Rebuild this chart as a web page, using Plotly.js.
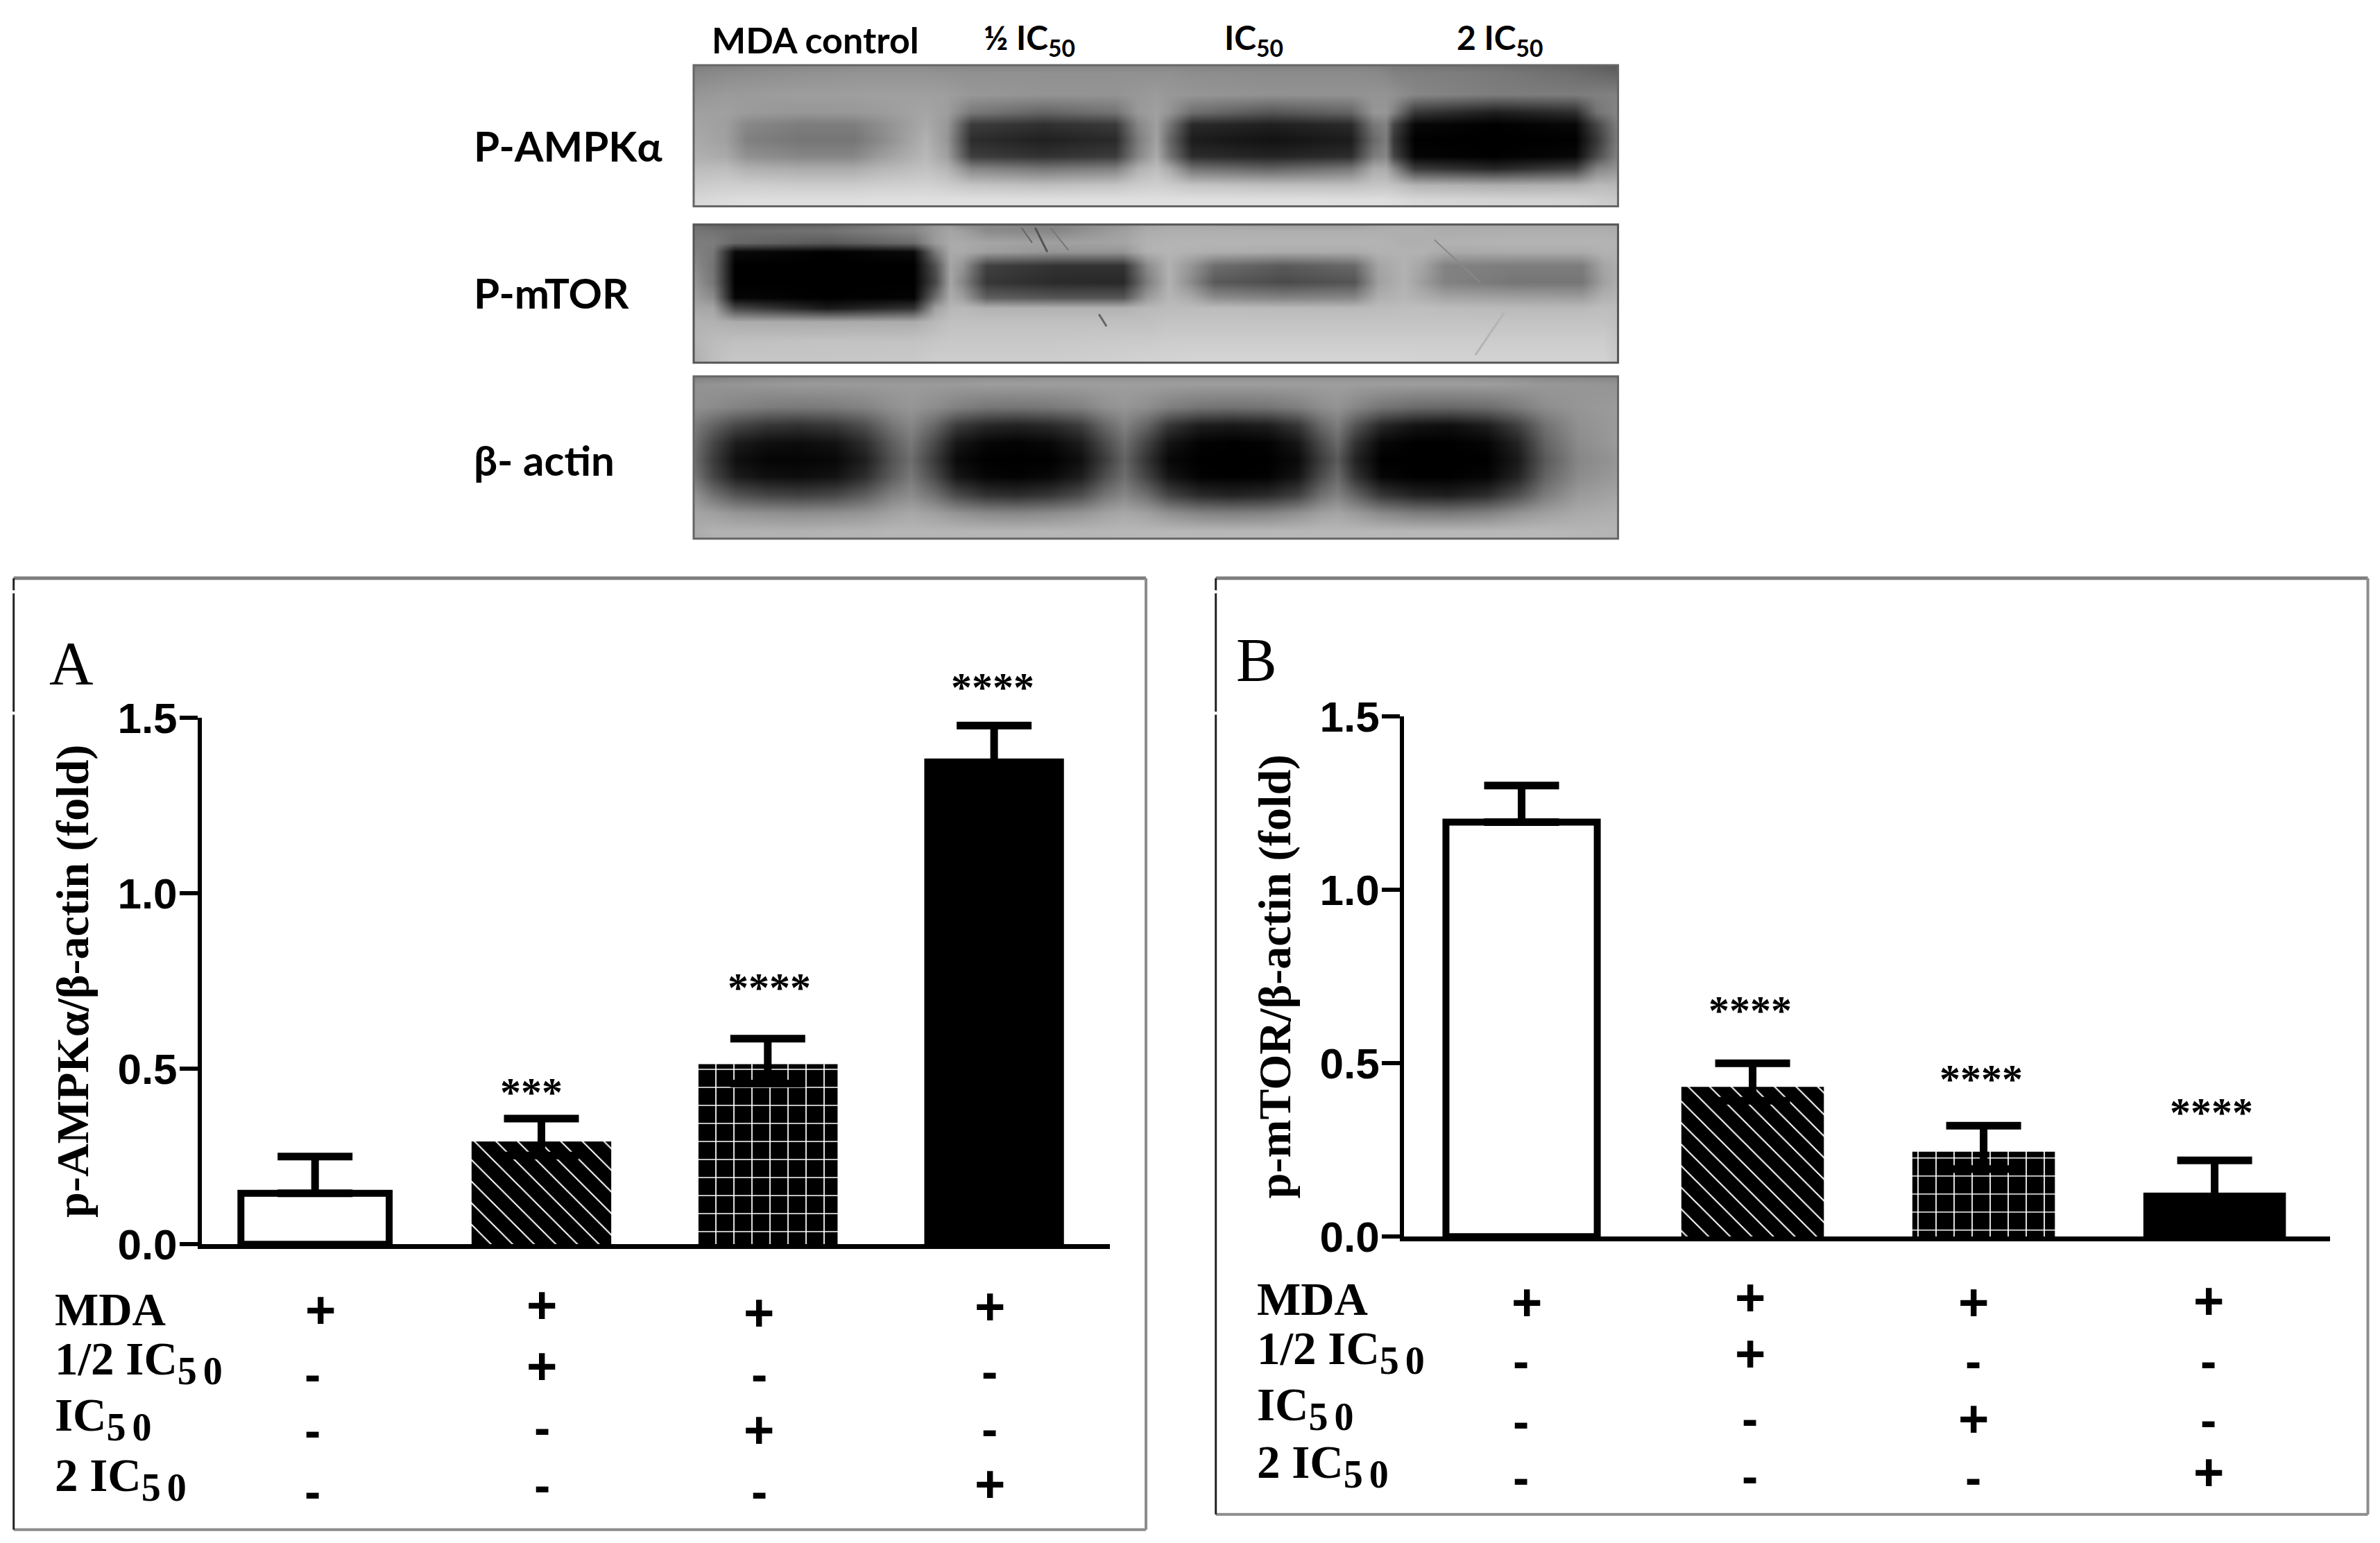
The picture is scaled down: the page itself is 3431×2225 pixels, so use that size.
<!DOCTYPE html>
<html>
<head>
<meta charset="utf-8">
<script src="https://cdn.plot.ly/plotly-3.0.1.min.js"></script>
<style>html,body{margin:0;padding:0;background:#fff}#chart{width:3431px;height:2225px}</style>
</head>
<body>
<div id="chart"></div>
<script>
const categories = ["MDA", "1/2 IC50", "IC50", "2 IC50"];
const valuesA = [0.145, 0.293, 0.513, 1.384];
const errUpA = [0.105, 0.065, 0.073, 0.094];
const errDownA = [0, 0.04, 0.055, 0.09];
const valuesB = [1.195, 0.432, 0.245, 0.127];
const errUpB = [0.105, 0.068, 0.075, 0.093];
const errDownB = [0, 0.04, 0.05, 0.06];
const starsA = ["", "***", "****", "****"];
const starsB = ["", "****", "****", "****"];
const yTicks = [0, 0.5, 1, 1.5];
const yTickLabels = ["0.0", "0.5", "1.0", "1.5"];
const SUB50 = '<sub><span style="font-size:56px;letter-spacing:9px">50</span></sub>';
const rowLabels = ["MDA", "1/2 IC" + SUB50, "IC" + SUB50, "2 IC" + SUB50];
const treatment = [["+","+","+","+"],["-","+","-","-"],["-","-","+","-"],["-","-","-","+"]];
const laneLabels = ["MDA control", "½ IC<sub>50</sub>", "IC<sub>50</sub>", "2 IC<sub>50</sub>"];
const blotLabels = ["P-AMPKα", "P-mTOR", "β- actin"];

// Grey levels of the three blots (top row first).
const ampkCols = [457,478,492,527,562,578,610,624,640,687,735,750,762,770,785,837,890,905,913,918,932,985,1038,1052,1066];
const ampkRows = [43,48,62,74,82,92,103,111,122,131,136];
const blotAMPK = [
[125,130,132,135,138,138,138,136,135,135,135,135,135,135,132,130,130,128,125,120,118,112,100,95,90],
[135,140,142,145,148,148,148,146,145,145,145,145,145,145,142,140,140,138,135,130,128,122,110,105,100],
[150,155,155,158,158,160,160,158,152,148,148,152,155,152,150,146,146,148,148,146,135,125,125,128,130],
[160,160,155,150,152,155,165,158,120,100,115,152,160,148,110,85,100,150,150,130,55,30,45,115,135],
[165,158,135,125,125,140,170,152,60,48,58,135,160,120,42,32,42,120,130,70,8,0,8,70,130],
[170,160,128,118,118,135,178,150,45,32,42,125,162,105,28,18,28,105,125,55,0,0,0,55,128],
[176,170,145,135,135,155,184,160,62,50,60,135,172,120,45,35,45,125,135,70,5,0,8,75,135],
[188,190,178,172,172,182,194,182,135,120,130,178,190,172,115,100,120,172,172,140,60,40,65,135,150],
[203,207,207,205,205,207,210,205,198,192,198,205,208,205,198,192,192,198,198,195,182,175,178,188,185],
[215,220,222,222,222,224,224,224,224,224,224,224,224,224,224,224,222,222,222,220,215,212,210,205,200],
[215,220,222,222,222,224,224,224,224,224,224,224,224,224,224,224,222,222,222,220,215,212,210,205,200]];
const mtorCols = [457,470,484,545,602,616,626,634,650,695,740,756,770,784,800,845,892,908,925,937,952,997,1042,1056,1066];
const mtorRows = [148,152,160,166,175,186,196,203,212,225,236,239];
const blotMTOR = [
[110,100,95,100,130,150,155,140,135,130,150,165,170,170,165,160,160,170,172,172,170,170,170,170,168],
[118,115,110,115,135,155,165,160,140,135,160,172,175,175,175,175,175,175,175,175,172,175,175,175,172],
[125,125,105,90,110,155,170,170,165,160,165,178,180,180,180,180,180,180,175,175,178,180,180,180,178],
[130,120,10,0,10,120,170,170,160,150,150,178,180,178,175,172,172,178,178,178,170,172,172,178,178],
[140,115,0,0,0,80,165,150,65,50,50,140,178,150,110,90,105,165,178,165,130,125,125,165,175],
[150,118,0,0,0,70,165,135,55,42,40,125,178,140,90,75,85,160,178,158,130,118,118,160,175],
[160,140,5,0,3,110,172,160,95,85,85,155,182,170,140,130,135,175,182,175,165,160,158,178,180],
[168,165,70,25,50,160,182,185,178,178,178,185,188,188,188,186,186,188,190,190,188,186,186,190,188],
[178,178,172,170,172,185,192,192,192,192,192,192,195,195,195,195,195,195,195,195,195,195,195,195,190],
[180,188,192,195,195,198,200,200,200,200,202,202,205,205,205,205,205,205,205,205,205,205,205,205,195],
[175,190,198,198,200,205,205,205,205,205,208,210,210,212,212,212,212,212,212,210,210,210,210,210,200],
[175,190,198,198,200,205,205,205,205,205,208,210,210,212,212,212,212,212,212,210,210,210,210,210,200]];
const actinCols = [457,470,485,505,527,550,570,588,600,615,630,650,670,692,712,728,741,756,770,790,812,835,855,870,881,893,910,932,955,980,1000,1018,1040,1066];
const actinRows = [248,253,268,280,292,303,314,326,338,350,355];
const blotActin = [
[128,130,132,135,138,140,140,140,140,140,140,142,142,145,145,145,145,145,145,145,145,145,145,145,145,145,145,145,145,142,140,135,135,132],
[145,148,150,152,155,155,155,155,155,155,155,158,158,158,158,158,158,158,158,158,158,158,158,158,158,158,158,158,158,158,155,152,150,148],
[145,140,132,125,122,125,132,145,150,142,130,120,118,122,130,145,150,142,128,118,115,118,128,142,148,135,118,108,105,110,125,142,150,155],
[125,100,72,55,50,58,80,120,135,105,60,40,35,42,62,105,130,100,55,30,25,30,55,105,125,85,40,20,15,30,65,115,145,155],
[115,70,28,15,12,18,45,95,120,75,22,6,3,8,28,75,110,65,20,3,0,3,22,75,105,50,8,0,0,5,35,100,140,155],
[110,60,15,5,5,8,30,85,110,60,10,0,0,0,15,60,100,50,8,0,0,0,10,60,90,35,0,0,0,0,25,90,135,150],
[120,70,28,15,12,18,45,95,120,75,22,5,2,8,28,78,110,65,20,2,0,2,20,75,105,50,6,0,0,5,35,100,140,155],
[148,115,85,70,65,72,95,130,140,115,75,50,45,55,78,118,135,110,68,42,35,42,65,112,130,100,55,35,30,45,80,125,155,165],
[165,160,150,145,142,145,150,162,168,160,148,138,135,140,150,162,168,160,145,132,128,132,145,160,165,155,138,125,122,130,148,160,170,175],
[172,178,178,178,178,180,180,182,182,182,182,182,182,182,182,182,184,184,184,184,184,184,184,184,184,184,184,184,184,184,184,184,182,180],
[170,176,178,178,178,180,180,182,182,182,182,182,182,182,182,182,184,184,184,184,184,184,184,184,184,184,184,184,184,184,184,184,182,178]];

const fx = r => r / 1568;
const fy = r => 1 - r / 1016.85;
const BLACK = "#000";

function barTrace(vals, up, down, xa, ya) {
  return {
    type: "bar", x: categories, y: vals, xaxis: xa, yaxis: ya, showlegend: false,
    width: [0.655, 0.617, 0.617, 0.617],
    marker: {
      color: ["#fff", "#000", "#000", "#000"],
      line: {color: "#000", width: [10, 0, 0, 0]},
      pattern: {
        shape: ["", "\\", "+", ""],
        fillmode: "overlay",
        fgcolor: ["#000", "#c4c4c4", "#fff", "#000"], fgopacity: 1,
        size: [10, 22, 26, 10], solidity: [0.1, 0.09, 0.13, 0.1]
      }
    },
    error_y: {type: "data", symmetric: false, array: up, arrayminus: down,
      color: BLACK, thickness: 11, width: 54}
  };
}
function blotTrace(z, xs, ys, xa, ya) {
  return {type: "heatmap", z: z, x: xs, y: ys, xaxis: xa, yaxis: ya, zsmooth: "best", showscale: false,
    zmin: 0, zmax: 255, colorscale: [[0, "#000"], [1, "#fff"]], hoverinfo: "skip"};
}
const data = [
  barTrace(valuesA, errUpA, errDownA, "x", "y"),
  barTrace(valuesB, errUpB, errDownB, "x2", "y2"),
  blotTrace(blotAMPK, ampkCols, ampkRows, "x3", "y3"),
  blotTrace(blotMTOR, mtorCols, mtorRows, "x4", "y4"),
  blotTrace(blotActin, actinCols, actinRows, "x5", "y5")
];

function valueAxis(top, bottom, anchor, title, standoff) {
  return {
    domain: [fy(bottom), fy(top)], anchor: anchor, range: [0, 1.5],
    tickmode: "array", tickvals: yTicks, ticktext: yTickLabels,
    ticks: "outside", ticklen: 26, tickwidth: 6, tickcolor: BLACK, ticklabelstandoff: -9,
    showline: true, linecolor: BLACK, linewidth: 6, showgrid: false, zeroline: false,
    tickfont: {family: "Liberation Sans", size: 62, color: BLACK, weight: "bold"},
    title: {text: title, standoff: standoff, font: {family: "Liberation Serif", size: 66, color: BLACK, weight: "bold"}}
  };
}
function catAxis(l, r, range, anchor) {
  return {domain: [fx(l), fx(r)], anchor: anchor, type: "category", categoryorder: "array",
    categoryarray: categories, range: range, showline: true, linecolor: BLACK, linewidth: 7,
    ticks: "", showticklabels: false, showgrid: false, zeroline: false};
}
function blotAxes(n, top, bottom) {
  const o = {};
  o["xaxis" + n] = {domain: [fx(457), fx(1066)], anchor: "y" + n, range: [457, 1066], visible: false};
  o["yaxis" + n] = {domain: [fy(bottom), fy(top)], anchor: "x" + n, range: [bottom, top], visible: false};
  return o;
}

const annotations = [];
function txt(text, x, y, family, size, weight, anchor, color) {
  annotations.push({xref: "paper", yref: "paper", x: fx(x), y: fy(y), text: text, showarrow: false,
    xanchor: anchor || "center", yanchor: "middle", align: "left",
    font: {family: family, size: size, color: color || BLACK, weight: weight || "normal"}});
}
const SERIF = "Liberation Serif", SANS = "Liberation Sans", HEAD = "Lato";

[537, 678, 826, 988].forEach((x, i) => txt(laneLabels[i], x, 26, HEAD, i === 0 ? 52 : 48, "bold"));
[96, 193, 303].forEach((y, i) => txt(blotLabels[i], 311, y, HEAD, 60, "bold", "left"));

txt("A", 47, 437, SERIF, 88);
txt("B", 828, 435, SERIF, 88);
[350, 507, 654].forEach((x, i) => txt(starsA[i + 1], x, [720, 651, 453][i], SERIF, 60, "bold"));
[1153, 1305, 1457].forEach((x, i) => txt(starsB[i + 1], x, [666, 711, 733][i], SERIF, 60, "bold"));

function table(leftX, labelYs, colXs, dashXs, rowYs) {
  rowLabels.forEach((t, r) => txt(t, leftX, labelYs[r], SERIF, 67, "bold", "left"));
  treatment.forEach((row, r) => row.forEach((s, c) =>
    txt(s, s === "+" ? colXs[c] : dashXs[c], rowYs[r][c], SANS, s === "+" ? 76 : 70, "bold")));
}
table(35, [863, 898, 935, 975], [211, 357, 500, 652], [206, 357, 500, 652],
  [[863, 860, 865, 861], [906, 900, 906, 904], [943, 941, 942, 942], [983, 979, 983, 978]]);
table(827, [856, 891, 928, 966], [1006, 1153, 1300, 1455], [1002, 1153, 1300, 1455],
  [[858, 855, 858, 857], [897, 892, 897, 897], [937, 935, 935, 936], [974, 973, 974, 970]]);

function edge(x0, y0, x1, y1, color, width) {
  return {type: "line", xref: "paper", yref: "paper", x0: fx(x0), x1: fx(x1), y0: fy(y0), y1: fy(y1),
    line: {color: color, width: width}, layer: "above"};
}
function frame(l, t, r, b) {
  return [
    edge(l, t, r, t, "#7e7e7e", 5),
    edge(r, t, r, b, "#8c8c8c", 4),
    edge(l, b, r, b, "#8c8c8c", 4),
    edge(l, t, l, b, "#222", 3),
    edge(l, t + 8, l, t + 10, "#fff", 4),
    edge(l, t + 88, l, t + 90, "#fff", 4)
  ];
}
function rect(l, t, r, b, color, width) {
  return {type: "rect", xref: "paper", yref: "paper", x0: fx(l), x1: fx(r), y0: fy(t), y1: fy(b),
    line: {color: color, width: width}, layer: "above"};
}
function streak(x0, y0, x1, y1, color, width) {
  return {type: "line", xref: "x4", yref: "y4", x0: x0, y0: y0, x1: x1, y1: y1,
    line: {color: color, width: width}, layer: "above"};
}
const shapes = [
  ...frame(9, 381, 755, 1008),
  ...frame(801, 381, 1560, 998),
  rect(457, 43, 1066, 136, "#666", 3),
  rect(457, 148, 1066, 239, "#555", 3),
  rect(457, 248, 1066, 355, "#666", 3),
  streak(673, 150, 680, 160, "#666", 2),
  streak(682, 150, 690, 166, "#555", 3),
  streak(692, 150, 704, 165, "#777", 2),
  streak(945, 158, 975, 186, "#888", 2),
  streak(724, 207, 729, 215, "#666", 3),
  streak(991, 206, 972, 234, "#b4b4b4", 3)
];

const layout = Object.assign({
  width: 3431, height: 2225, margin: {l: 0, r: 0, t: 0, b: 0, pad: 0},
  paper_bgcolor: "#fff", plot_bgcolor: "rgba(0,0,0,0)", showlegend: false, bargap: 0.38,
  xaxis: catAxis(133, 731, [-0.5, 3.51], "y"),
  yaxis: valueAxis(473, 820, "x", "p-AMPKα/β-actin (fold)", 22),
  xaxis2: catAxis(925, 1535, [-0.509, 3.499], "y2"),
  yaxis2: valueAxis(472, 815, "x2", "p-mTOR/β-actin (fold)", 22),
  annotations: annotations, shapes: shapes
}, blotAxes(3, 43, 136), blotAxes(4, 148, 239), blotAxes(5, 248, 355));

Plotly.newPlot("chart", data, layout, {staticPlot: true, displayModeBar: false});
</script>
</body>
</html>
